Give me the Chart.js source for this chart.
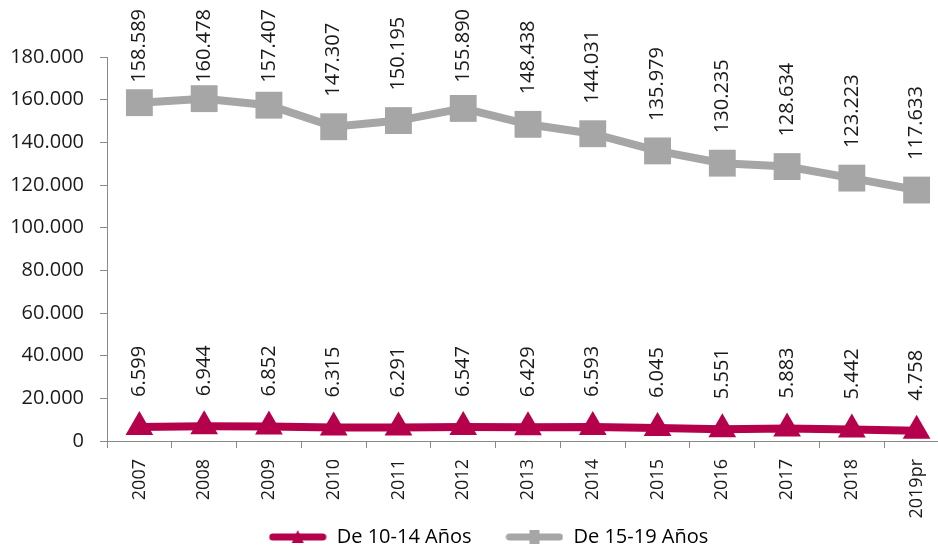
<!DOCTYPE html>
<html>
<head>
<meta charset="utf-8">
<script src="https://cdn.jsdelivr.net/npm/chart.js@4"></script>
<style>
  html, body { margin: 0; padding: 0; background: #fff; overflow: hidden; }
  #wrap { width: 968px; height: 547px; }
</style>
</head>
<body>
<div id="wrap"><canvas id="grafico" width="968" height="547"></canvas></div>
<script>
// datos
let years = ['2007','2008','2009','2010','2011','2012','2013','2014','2015','2016','2017','2018','2019pr'];
let de10a14 = [6599, 6944, 6852, 6315, 6291, 6547, 6429, 6593, 6045, 5551, 5883, 5442, 4758];
let de15a19 = [158589, 160478, 157407, 147307, 150195, 155890, 148438, 144031, 135979, 130235, 128634, 123223, 117633];
let yTicks = [0, 20000, 40000, 60000, 80000, 100000, 120000, 140000, 160000, 180000];

const rojo = '#B5004B';
const gris = '#A6A6A6';
const fuente = "'Open Sans', 'Noto Sans', sans-serif";

function fmt(v){
  return v.toString().replace(/\B(?=(\d{3})+(?!\d))/g, '.');
}

// icono de leyenda: linea con marcador
function legendIcon(color, tipo){
  let c = document.createElement('canvas');
  c.width = 58; c.height = 16;
  let g = c.getContext('2d');
  g.strokeStyle = color;
  g.lineWidth = 7;
  g.lineCap = 'round';
  g.beginPath(); g.moveTo(4, 8); g.lineTo(54, 8); g.stroke();
  g.fillStyle = color;
  if(tipo == 'tri'){
    g.beginPath(); g.moveTo(29, 1); g.lineTo(35, 14); g.lineTo(23, 14); g.closePath(); g.fill();
  }else{
    g.fillRect(24, 1, 10, 14);
  }
  return c;
}

const etiquetas = {
  id: 'etiquetas',
  afterDatasetsDraw(chart){
    let ctx = chart.ctx;
    ctx.save();
    ctx.font = '20px ' + fuente;
    ctx.fillStyle = '#1a1a1a';
    ctx.textAlign = 'left';
    ctx.textBaseline = 'middle';
    chart.data.datasets.forEach((ds, i) => {
      let meta = chart.getDatasetMeta(i);
      meta.data.forEach((pt, j) => {
        let txt = fmt(ds.data[j]);
        let w = ctx.measureText(txt).width;
        let start = pt.y - 30;
        if(start - w < 9) start = 9 + w;
        ctx.save();
        ctx.translate(pt.x, start);
        ctx.rotate(-Math.PI/2);
        ctx.fillText(txt, 0, 0);
        ctx.restore();
      });
    });
    ctx.restore();
  }
};

const config = {
  type: 'line',
  data: {
    labels: years,
    datasets: [{
      label: 'De 10-14 Años',
      data: de10a14,
      borderColor: rojo,
      backgroundColor: rojo,
      borderWidth: 8,
      pointStyle: 'triangle',
      pointRadius: 16,
      pointBorderWidth: 0,
      tension: 0
    },{
      label: 'De 15-19 Años',
      data: de15a19,
      borderColor: gris,
      backgroundColor: gris,
      borderWidth: 8,
      pointStyle: 'rect',
      pointRadius: 19,
      pointBorderWidth: 0,
      tension: 0
    }]
  },
  options: {
    responsive: false,
    animation: false,
    layout: { padding: { top: 57, left: 10, right: 1, bottom: 0 } },
    plugins: {
      tooltip: { enabled: false },
      legend: {
        position: 'bottom',
        maxHeight: 28,
        labels: {
          usePointStyle: true,
          pointStyleWidth: 58,
          padding: 8,
          color: '#1a1a1a',
          font: { family: fuente, size: 20 },
          generateLabels(chart){
            return chart.data.datasets.map((ds, i) => ({
              text: i == 0 ? ds.label + '     ' : ds.label,
              fillStyle: ds.borderColor,
              strokeStyle: ds.borderColor,
              lineWidth: 0,
              pointStyle: legendIcon(ds.borderColor, i == 0 ? 'tri' : 'sq'),
              hidden: false,
              datasetIndex: i
            }));
          }
        }
      }
    },
    scales: {
      x: {
        offset: true,
        afterFit(axis){ axis.height = 78; },
        grid: { display: true, offset: true, drawOnChartArea: false, drawTicks: true, tickLength: 7, color: '#898989' },
        border: { display: true, color: '#898989', width: 1 },
        ticks: {
          color: '#1a1a1a',
          font: { family: fuente, size: 18 },
          minRotation: 90,
          maxRotation: 90,
          padding: 11,
          autoSkip: false
        }
      },
      y: {
        min: 0,
        max: 180000,
        afterFit(axis){ axis.width = 97; },
        afterBuildTicks(axis){
          axis.ticks = yTicks.map(v => ({ value: v }));
        },
        grid: { display: true, drawOnChartArea: false, drawTicks: true, tickLength: 7, color: '#898989' },
        border: { display: true, color: '#898989', width: 1 },
        ticks: {
          color: '#1a1a1a',
          font: { family: fuente, size: 20 },
          padding: 16,
          callback: v => fmt(v)
        }
      }
    }
  },
  plugins: [etiquetas]
};

const miGrafico = new Chart(document.getElementById('grafico'), config);
</script>
</body>
</html>
